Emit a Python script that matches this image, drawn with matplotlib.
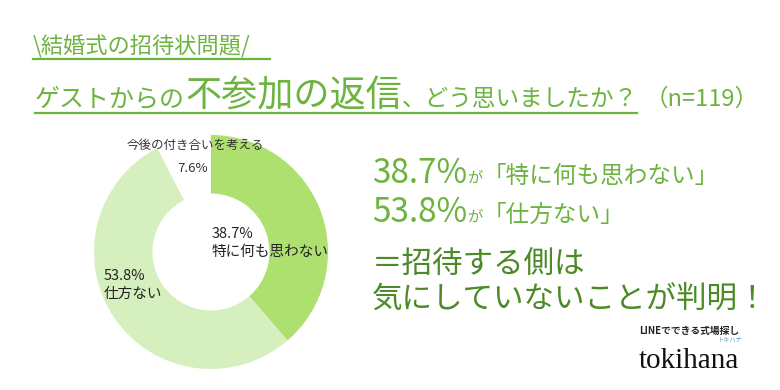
import matplotlib
matplotlib.use("Agg")
import matplotlib.pyplot as plt

plt.rcParams['font.family'] = ['Noto Sans CJK JP', 'DejaVu Sans']

# data
labels = ['特に何も思わない', '仕方ない', '今後の付き合いを考える']
values = [38.7, 53.8, 7.6]
n_total = 119

slice_colors = ['#ade06e', '#d6efbe', '#ffffff']
green = '#6db33f'
dark_green = '#4b8a26'
W, H = 780, 390

fig = plt.figure(figsize=(7.8, 3.9), dpi=100)
fig.patch.set_facecolor('white')


def fx(x):
    return x / W


def fy(y):
    return 1 - y / H


renderer = fig.canvas.get_renderer()


def run_text(x, y, parts, va='baseline'):
    # draw several pieces side by side on one baseline (pixel coords, y from top)
    for s, size, color in parts:
        t = fig.text(fx(x), fy(y), s, fontsize=size, color=color, va=va, ha='left')
        bb = t.get_window_extent(renderer=renderer)
        x += bb.width
    return x


# header
fig.text(fx(33), fy(53), '\\結婚式の招待状問題/', fontsize=16, color=green, va='baseline')
fig.add_artist(plt.Line2D([fx(33), fx(270)], [fy(59), fy(59)], transform=fig.transFigure,
                          color=green, lw=1.6))

run_text(35, 106, [('ゲストからの', 18, green), ('不参加の返信', 26, green),
                   ('、どう思いましたか？', 17, green)])
fig.add_artist(plt.Line2D([fx(35), fx(637)], [fy(113), fy(113)], transform=fig.transFigure,
                          color=green, lw=1.6))
fig.text(fx(645), fy(106), '（n=%d）' % n_total, fontsize=17, color=green, va='baseline')

# donut
ax = fig.add_axes([fx(94), 21 / H, 234 / W, 234 / H])
ax.pie(values, colors=slice_colors, startangle=90, counterclock=False, radius=1,
       wedgeprops=dict(width=0.5, edgecolor='none'))
ax.set_xlim(-1, 1)
ax.set_ylim(-1, 1)
ax.axis('off')

fig.text(fx(127), fy(145), labels[2], fontsize=9, color='#333333', va='center')
fig.text(fx(193), fy(169), '%.1f%%' % values[2], fontsize=9.5, color='#333333', va='center', ha='center')
fig.text(fx(212), fy(243), '%.1f%%\n%s' % (values[0], labels[0]), fontsize=10.5,
         color='#222222', va='center', linespacing=1.3)
fig.text(fx(104), fy(285), '%.1f%%\n%s' % (values[1], labels[1]), fontsize=10.5,
         color='#222222', va='center', linespacing=1.3)

# right-hand summary
run_text(372, 183, [('%.1f%%' % values[0], 24, green), ('が', 11, green),
                    ('「%s」' % labels[0], 17, green)])
run_text(372, 222, [('%.1f%%' % values[1], 24, green), ('が', 11, green),
                    ('「%s」' % labels[1], 17, green)])
fig.text(fx(372), fy(274), '＝招待する側は', fontsize=22, color=dark_green, va='baseline')
fig.text(fx(372), fy(308), '気にしていないことが判明！', fontsize=22, color=dark_green, va='baseline')

# logo
fig.text(fx(689), fy(331), 'LINEでできる式場探し', fontsize=7, color='#222222',
         va='center', ha='center', fontweight='bold')
fig.text(fx(689), fy(368), 'tokihana', fontsize=21, color='#111111', va='baseline',
         ha='center', family=['Liberation Serif', 'DejaVu Serif'])
fig.text(fx(730), fy(340), 'トキハナ', fontsize=4.5, color='#5aa0c8', va='center', ha='center')

fig.savefig('out.png', dpi=100, facecolor='white')
